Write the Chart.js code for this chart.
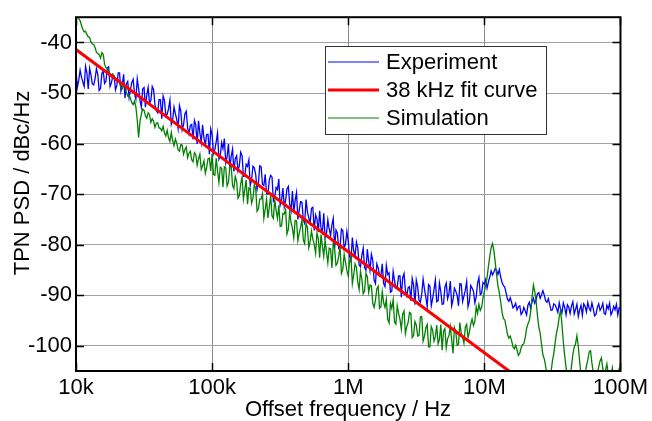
<!DOCTYPE html>
<html><head><meta charset="utf-8">
<script src="https://cdn.jsdelivr.net/npm/chart.js@4.4.1/dist/chart.umd.min.js"></script>
<style>html,body{margin:0;padding:0;background:#fff;}#wrap{width:652px;height:421px;}</style>
</head><body><div id="wrap"><canvas id="c" width="652" height="421"></canvas></div>
<script>
// ---- data (sample grid: 100 points per decade) ----
const mantissas = [
1.000,1.023,1.047,1.072,1.096,1.122,1.148,1.175,1.202,1.230,
1.259,1.288,1.318,1.349,1.380,1.413,1.445,1.479,1.514,1.549,
1.585,1.622,1.660,1.698,1.738,1.778,1.820,1.862,1.905,1.950,
1.995,2.042,2.089,2.138,2.188,2.239,2.291,2.344,2.399,2.455,
2.512,2.570,2.630,2.692,2.754,2.818,2.884,2.951,3.020,3.090,
3.162,3.236,3.311,3.388,3.467,3.548,3.631,3.715,3.802,3.890,
3.981,4.074,4.169,4.266,4.365,4.467,4.571,4.677,4.786,4.898,
5.012,5.129,5.248,5.370,5.495,5.623,5.754,5.888,6.026,6.166,
6.310,6.457,6.607,6.761,6.918,7.079,7.244,7.413,7.586,7.762,
7.943,8.128,8.318,8.511,8.710,8.913,9.120,9.333,9.550,9.772];
const decades = [1e4,1e5,1e6,1e7];
const lastFreq = 1e8;

const experiment = [
-45.6,-48.9,-47.5,-45.5,-46.8,-47.8,-48.7,-44.7,-46.0,-49.2,-45.1,-46.4,-48.2,-48.4,-47.2,-45.2,-46.3,-49.5,-49.1,-46.1,
-45.7,-48.1,-47.7,-45.0,-44.8,-48.7,-48.0,-46.7,-46.6,-49.4,-48.5,-46.0,-46.0,-49.6,-48.3,-46.3,-51.0,-48.2,-47.7,-50.9,
-49.4,-47.9,-47.3,-50.1,-51.2,-47.2,-49.1,-51.4,-52.8,-49.2,-48.9,-52.8,-50.4,-48.9,-52.0,-51.5,-48.7,-49.3,-52.3,-53.5,
-53.9,-51.3,-51.3,-55.1,-50.6,-51.5,-54.5,-54.2,-53.1,-51.4,-56.2,-55.3,-52.8,-54.1,-55.2,-57.0,-52.5,-53.6,-57.3,-56.3,
-54.1,-53.6,-56.9,-58.1,-56.4,-56.2,-59.2,-55.4,-56.3,-60.1,-55.5,-57.9,-59.8,-56.3,-58.9,-60.2,-58.2,-58.2,-62.1,-57.1,
-58.3,-62.0,-61.2,-59.6,-57.9,-63.1,-62.4,-59.8,-61.0,-59.0,-63.8,-62.6,-60.1,-64.8,-62.6,-61.1,-65.5,-63.0,-62.4,-65.4,
-64.3,-61.7,-62.4,-66.5,-66.4,-64.1,-64.5,-63.2,-68.3,-67.1,-64.5,-64.8,-66.1,-69.1,-67.8,-64.4,-64.6,-68.1,-68.3,-66.1,
-69.9,-70.0,-67.3,-66.3,-66.6,-71.3,-70.5,-68.7,-69.1,-67.0,-72.2,-71.2,-68.8,-72.5,-71.2,-69.0,-68.5,-72.0,-73.3,-69.4,
-73.7,-71.2,-69.7,-75.0,-73.2,-71.5,-71.6,-75.1,-75.8,-71.1,-73.5,-74.7,-75.7,-72.8,-72.6,-77.2,-74.1,-74.9,-77.5,-73.3,
-76.7,-77.6,-73.8,-78.6,-77.8,-75.1,-76.9,-78.2,-76.1,-74.8,-80.7,-77.1,-77.7,-80.7,-80.4,-76.9,-77.2,-80.7,-79.9,-77.4,
-79.3,-82.3,-83.2,-78.6,-81.2,-82.3,-79.5,-80.6,-84.0,-84.4,-82.1,-80.7,-84.5,-85.1,-80.9,-83.3,-85.1,-81.9,-83.1,-87.0,
-87.7,-83.8,-84.6,-86.2,-86.1,-83.8,-87.7,-88.3,-84.1,-85.9,-85.6,-89.4,-89.2,-85.3,-87.1,-88.6,-88.3,-86.2,-86.2,-90.4,
-86.5,-85.7,-89.1,-90.1,-88.5,-88.3,-91.1,-86.7,-88.0,-91.9,-87.0,-88.3,-91.0,-91.4,-89.8,-86.8,-88.8,-90.4,-92.3,-87.9,
-88.2,-92.1,-90.7,-88.9,-87.0,-91.3,-91.1,-87.6,-89.3,-91.8,-91.7,-88.4,-87.6,-90.7,-89.7,-87.2,-92.1,-90.9,-88.6,-89.2,
-90.0,-92.1,-87.7,-87.8,-91.3,-90.2,-89.0,-87.3,-92.3,-91.2,-88.1,-88.6,-89.2,-91.5,-90.4,-87.6,-86.5,-89.9,-89.6,-87.5,
-87.8,-86.9,-88.6,-87.3,-86.4,-85.2,-86.0,-85.4,-84.7,-85.1,-85.9,-84.9,-86.4,-87.5,-88.1,-88.4,-89.6,-90.8,-91.2,-90.5,
-91.4,-92.5,-92.2,-91.6,-92.9,-92.3,-92.1,-93.8,-93.4,-92.4,-93.1,-93.9,-92.0,-91.4,-92.6,-91.3,-90.6,-91.6,-90.9,-89.7,
-89.5,-90.6,-89.9,-89.1,-90.0,-91.1,-91.4,-90.7,-91.8,-93.0,-92.9,-91.7,-91.9,-92.6,-93.4,-91.5,-92.8,-93.5,-91.5,-92.4,
-93.9,-91.9,-92.4,-93.6,-92.1,-91.3,-93.7,-92.8,-91.8,-94.2,-92.9,-92.0,-94.0,-91.7,-92.2,-93.3,-91.4,-92.6,-93.1,-91.5,
-92.7,-94.1,-93.8,-92.4,-91.7,-93.0,-92.5,-91.6,-93.6,-93.8,-92.0,-92.7,-91.6,-93.9,-93.3,-92.2,-92.9,-91.8,-93.9,-92.5,
-92.6
];

const simulation = [
-34.0,-34.8,-35.3,-35.7,-36.6,-37.4,-37.9,-37.8,-38.4,-38.9,-39.0,-39.9,-40.3,-40.4,-41.0,-41.9,-42.2,-42.4,-43.1,-42.0,
-42.4,-44.3,-45.0,-45.1,-45.7,-46.3,-46.4,-46.2,-46.9,-47.5,-47.6,-47.4,-48.0,-49.0,-49.2,-48.4,-48.7,-49.9,-50.6,-50.4,
-51.1,-51.9,-52.3,-51.6,-52.8,-55.4,-58.8,-55.6,-54.2,-53.2,-53.4,-54.5,-55.0,-53.9,-54.3,-55.8,-55.1,-55.6,-56.8,-56.0,
-55.9,-56.9,-57.0,-57.5,-56.6,-57.9,-58.5,-57.4,-58.9,-59.6,-57.8,-59.4,-60.4,-59.1,-59.9,-61.2,-61.5,-60.2,-60.3,-62.1,
-61.2,-60.7,-62.8,-61.9,-61.5,-63.2,-63.6,-61.8,-62.2,-64.3,-63.0,-62.1,-65.1,-64.4,-63.4,-65.9,-64.7,-63.0,-62.9,-65.4,
-62.0,-66.1,-66.3,-62.9,-65.4,-67.7,-64.7,-64.9,-68.6,-64.6,-64.8,-68.4,-67.7,-64.6,-64.4,-68.3,-68.9,-66.5,-67.5,-70.8,
-70.3,-67.9,-66.6,-71.0,-69.1,-67.2,-72.0,-68.8,-68.9,-71.8,-70.8,-68.1,-68.9,-73.4,-72.9,-71.0,-71.0,-69.9,-74.8,-73.0,
-71.0,-74.7,-72.6,-70.3,-74.3,-74.8,-71.1,-73.2,-74.8,-72.2,-76.4,-76.3,-73.8,-73.9,-73.1,-77.9,-77.0,-73.5,-75.6,-76.8,
-78.7,-75.2,-75.3,-79.2,-77.7,-76.6,-75.0,-79.1,-79.8,-75.8,-76.6,-80.6,-79.4,-77.3,-78.9,-79.9,-81.7,-77.7,-78.8,-82.6,
-78.0,-80.3,-82.3,-79.2,-81.4,-83.6,-80.7,-80.8,-84.6,-79.6,-80.8,-84.1,-83.7,-82.3,-80.4,-85.7,-84.9,-81.9,-83.5,-85.1,
-86.2,-83.2,-82.4,-87.7,-86.0,-83.8,-84.5,-87.4,-88.9,-85.3,-86.8,-89.7,-89.2,-85.7,-86.3,-89.4,-88.0,-88.1,-91.6,-92.4,
-91.0,-88.7,-88.2,-92.6,-92.3,-89.3,-91.5,-92.4,-90.8,-94.8,-95.5,-91.6,-92.6,-90.9,-95.3,-95.7,-92.1,-93.6,-94.8,-96.7,
-93.7,-93.1,-97.6,-96.2,-95.4,-93.4,-93.6,-98.4,-98.0,-95.2,-95.9,-98.1,-98.0,-94.3,-94.2,-99.1,-98.1,-96.5,-95.8,-100.2,
-100.2,-96.2,-96.9,-99.1,-98.2,-95.9,-99.6,-98.8,-95.8,-100.9,-97.1,-96.6,-100.4,-98.6,-98.0,-96.2,-98.9,-101.5,-96.4,-97.2,
-99.9,-99.7,-95.4,-97.5,-98.3,-99.5,-96.4,-95.8,-98.4,-97.3,-95.7,-94.7,-96.0,-95.2,-92.3,-93.6,-91.8,-93.0,-92.4,-90.6,
-89.3,-88.0,-86.5,-84.2,-82.3,-80.6,-79.8,-81.2,-83.5,-86.0,-88.2,-89.5,-91.3,-93.4,-94.6,-94.9,-96.2,-97.8,-98.5,-98.1,
-99.0,-100.2,-100.6,-99.9,-100.8,-101.9,-101.5,-100.4,-99.8,-99.6,-98.4,-96.6,-95.7,-95.0,-93.4,-90.5,-88.0,-89.2,-91.2,-94.0,
-96.3,-97.5,-99.7,-101.8,-102.6,-104.0,-105.8,-107.0,-106.5,-105.2,-103.0,-101.6,-99.4,-97.5,-96.2,-94.3,-93.0,-95.8,-99.2,-101.9,
-104.3,-106.2,-107.0,-106.0,-104.1,-101.7,-100.3,-99.6,-98.0,-100.1,-103.2,-105.6,-107.2,-107.5,-105.9,-104.0,-102.8,-101.2,-101.0,-103.4,
-105.3,-106.8,-107.1,-105.5,-104.2,-103.0,-102.4,-104.5,-106.2,-104.9,-103.6,-105.6,-107.0,-106.1,-104.4,-106.3,-107.3,-107.0,-105.8,-104.6,
-104.1
];

const fitFreq = [1e4, 1e5, 1e6, 1e7, 3e7];
const fitValues = [-41.4, -61.4, -81.4, -101.4, -110.9];

const xTickValues = [1e4, 1e5, 1e6, 1e7, 1e8];
const xTickLabels = ['10k', '100k', '1M', '10M', '100M'];
const yTickValues = [-100, -90, -80, -70, -60, -50, -40];
const seriesLabels = ['Experiment', '38 kHz fit curve', 'Simulation'];
const seriesColors = ['#0000ff', '#ff0000', '#008000'];
const xTitle = 'Offset frequency / Hz';
const yTitle = 'TPN PSD / dBc/Hz';

// ---- build tables ----
const freq = decades.flatMap(d => mantissas.map(m => m * d)).concat([lastFreq]);
const toXY = (xs, ys) => ys.map((v, i) => ({x: xs[i], y: v}));

const FONT = "'Liberation Sans', Arial, sans-serif";

const framePlugin = {
  id: 'frameLegend',
  afterDatasetsDraw(chart) {
    const {ctx, chartArea: a, scales: {x, y}} = chart;
    ctx.save();
    ctx.strokeStyle = '#000';
    ctx.lineWidth = 1.5;
    ctx.beginPath();
    yTickValues.forEach(v => {
      const py = Math.round(y.getPixelForValue(v)) + 0.5;
      ctx.moveTo(a.left, py); ctx.lineTo(a.left + 8, py);
      ctx.moveTo(a.right, py); ctx.lineTo(a.right - 8, py);
    });
    xTickValues.forEach(v => {
      const px = Math.round(x.getPixelForValue(v)) + 0.5;
      ctx.moveTo(px, a.top); ctx.lineTo(px, a.top + 8);
      ctx.moveTo(px, a.bottom); ctx.lineTo(px, a.bottom - 8);
    });
    ctx.stroke();
    ctx.lineWidth = 2;
    ctx.strokeRect(a.left, a.top, a.right - a.left, a.bottom - a.top);

    // legend box
    const bx = 325, by = 46, bw = 221, bh = 88;
    ctx.fillStyle = '#fff';
    ctx.fillRect(bx, by, bw, bh);
    ctx.strokeStyle = '#333';
    ctx.lineWidth = 1;
    ctx.strokeRect(bx + 0.5, by + 0.5, bw, bh);
    const ds = chart.data.datasets;
    ctx.font = '22px ' + FONT;
    ctx.textBaseline = 'middle';
    ctx.textAlign = 'left';
    seriesLabels.forEach((lab, i) => {
      const d = ds.find(s => s.label === lab);
      const ry = by + 16 + i * 28;
      ctx.strokeStyle = d.borderColor;
      ctx.lineWidth = d.borderWidth === 3 ? 3 : 1;
      ctx.beginPath(); ctx.moveTo(bx + 3, ry); ctx.lineTo(bx + 54, ry); ctx.stroke();
      ctx.fillStyle = '#000';
      ctx.fillText(lab, bx + 61, ry + 1);
    });

    // axis titles
    ctx.fillStyle = '#000';
    ctx.textAlign = 'center';
    ctx.textBaseline = 'middle';
    ctx.fillText(xTitle, 348, 410);
    ctx.translate(23, 183);
    ctx.rotate(-Math.PI / 2);
    ctx.fillText(yTitle, 0, 0);
    ctx.restore();
  }
};

new Chart(document.getElementById('c'), {
  type: 'line',
  data: {
    datasets: [
      {label: seriesLabels[0], data: toXY(freq, experiment), borderColor: seriesColors[0], borderWidth: 1.3, order: 2},
      {label: seriesLabels[1], data: toXY(fitFreq, fitValues), borderColor: seriesColors[1], borderWidth: 3, order: 0},
      {label: seriesLabels[2], data: toXY(freq, simulation), borderColor: seriesColors[2], borderWidth: 1.3, order: 1}
    ]
  },
  options: {
    responsive: false,
    animation: false,
    devicePixelRatio: 1,
    layout: {padding: {left: 0, top: 11, right: 28, bottom: 0}},
    elements: {point: {radius: 0}, line: {tension: 0, fill: false}},
    datasets: {line: {clip: 0}},
    plugins: {legend: {display: false}, tooltip: {enabled: false}},
    scales: {
      x: {
        type: 'logarithmic', min: 1e4, max: 1e8,
        afterBuildTicks: s => { s.ticks = xTickValues.map(v => ({value: v})); },
        afterFit: s => { s.height = 50; },
        ticks: {autoSkip: false, maxRotation: 0, padding: 4, color: '#000',
          font: {family: FONT, size: 22},
          callback: (v, i) => xTickLabels[i]},
        grid: {color: '#8c8c8c', lineWidth: 1, drawTicks: false},
        border: {display: false}
      },
      y: {
        type: 'linear', min: -105, max: -35,
        afterBuildTicks: s => { s.ticks = yTickValues.map(v => ({value: v})); },
        afterFit: s => { s.width = 76; },
        ticks: {padding: 4, color: '#000', font: {family: FONT, size: 22},
          callback: v => String(v)},
        grid: {color: '#a0a0a0', lineWidth: 1, drawTicks: false},
        border: {display: false}
      }
    }
  },
  plugins: [framePlugin]
});
</script>
</body></html>
